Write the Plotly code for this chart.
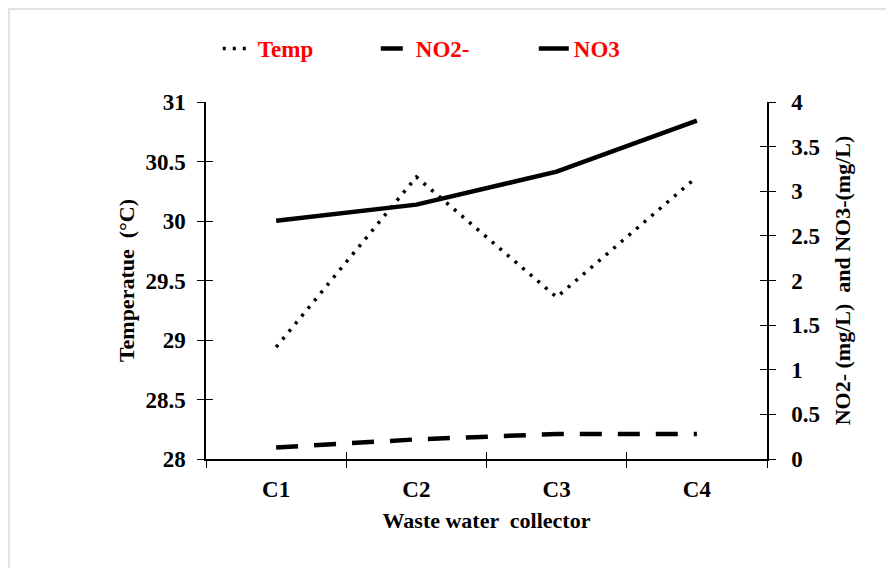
import plotly.graph_objects as go

categories = ["C1", "C2", "C3", "C4"]
temp = [28.94, 30.37, 29.36, 30.37]
no2 = [0.13, 0.22, 0.28, 0.28]
no3 = [2.67, 2.85, 3.22, 3.79]

left_ticks = [28, 28.5, 29, 29.5, 30, 30.5, 31]
right_ticks = [0, 0.5, 1, 1.5, 2, 2.5, 3, 3.5, 4]

FONT = "Liberation Serif"
W, H = 886, 560
L, R, T, B = 198, 127, 94, 109
PW, PH = W - L - R, H - T - B

fig = go.Figure()
fig.add_trace(go.Scatter(x=categories, y=temp, name="Temp", mode="lines",
                         line=dict(color="black", width=3.5, dash="3px,7px"), yaxis="y"))
fig.add_trace(go.Scatter(x=categories, y=no2, name="NO2-", mode="lines",
                         line=dict(color="black", width=4.5, dash="22px,16px"), yaxis="y2"))
fig.add_trace(go.Scatter(x=categories, y=no3, name="NO3", mode="lines",
                         line=dict(color="black", width=4.5), yaxis="y2"))

tickfont = dict(family=FONT, size=23, color="black", weight="bold")
titlefont = dict(family=FONT, size=22, color="black", weight="bold")
axis_common = dict(showgrid=False, zeroline=False, showline=True, linecolor="black",
                   linewidth=1.5, ticks="outside", ticklen=7, tickwidth=1.3, tickcolor="black",
                   tickfont=tickfont)
inner = dict(ticks="inside", ticklen=7, tickwidth=1.3, tickcolor="black", showticklabels=False,
             showgrid=False, zeroline=False, showline=False)

fig.update_layout(
    width=W, height=H,
    margin=dict(l=L, r=R, t=T, b=B),
    paper_bgcolor="white", plot_bgcolor="white",
    font=dict(family=FONT, color="black"),
    showlegend=True,
    legend=dict(orientation="h", x=0.021, xanchor="left", y=1.15, yanchor="middle",
                font=dict(family=FONT, size=23, color="red", weight="bold"),
                entrywidth=113, entrywidthmode="pixels", bgcolor="rgba(0,0,0,0)"),
    xaxis=dict(**axis_common, type="category", categoryorder="array", categoryarray=categories,
               tickson="boundaries", range=[-0.5, 3.5], ticklabelstandoff=9,
               title=dict(text="Waste water  collector", font=titlefont, standoff=11)),
    yaxis=dict(**axis_common, range=[28, 31], tickvals=left_ticks, ticklabelstandoff=7,
               title=dict(text="Temperatue  (°C)", font=titlefont, standoff=5)),
    yaxis2=dict(**axis_common, range=[0, 4], tickvals=right_ticks, overlaying="y", side="right",
                ticklabelstandoff=11,
                title=dict(text="NO2- (mg/L)  and NO3-(mg/L)", font=titlefont, standoff=16)),
    xaxis3=dict(**inner, overlaying="x", type="category", categoryorder="array",
                categoryarray=categories, tickson="boundaries", range=[-0.5, 3.5], anchor="y"),
    yaxis3=dict(**inner, overlaying="y", range=[28, 31], tickvals=left_ticks, anchor="x"),
    yaxis4=dict(**inner, overlaying="y", side="right", range=[0, 4], tickvals=right_ticks,
                anchor="x"),
)

fig.add_trace(go.Scatter(x=categories, y=temp, xaxis="x3", yaxis="y3", mode="none",
                         showlegend=False, hoverinfo="skip"))
fig.add_trace(go.Scatter(x=categories, y=no3, xaxis="x", yaxis="y4", mode="none",
                         showlegend=False, hoverinfo="skip"))

# light outer frame of the chart area
fig.add_shape(type="rect", xref="paper", yref="paper",
              x0=-(L - 1) / PW, y0=-0.6, x1=1.6, y1=1 + (T - 1) / PH,
              line=dict(color="#d9d9d9", width=1.5), fillcolor="rgba(0,0,0,0)", layer="below")

fig.write_html("out.html")
